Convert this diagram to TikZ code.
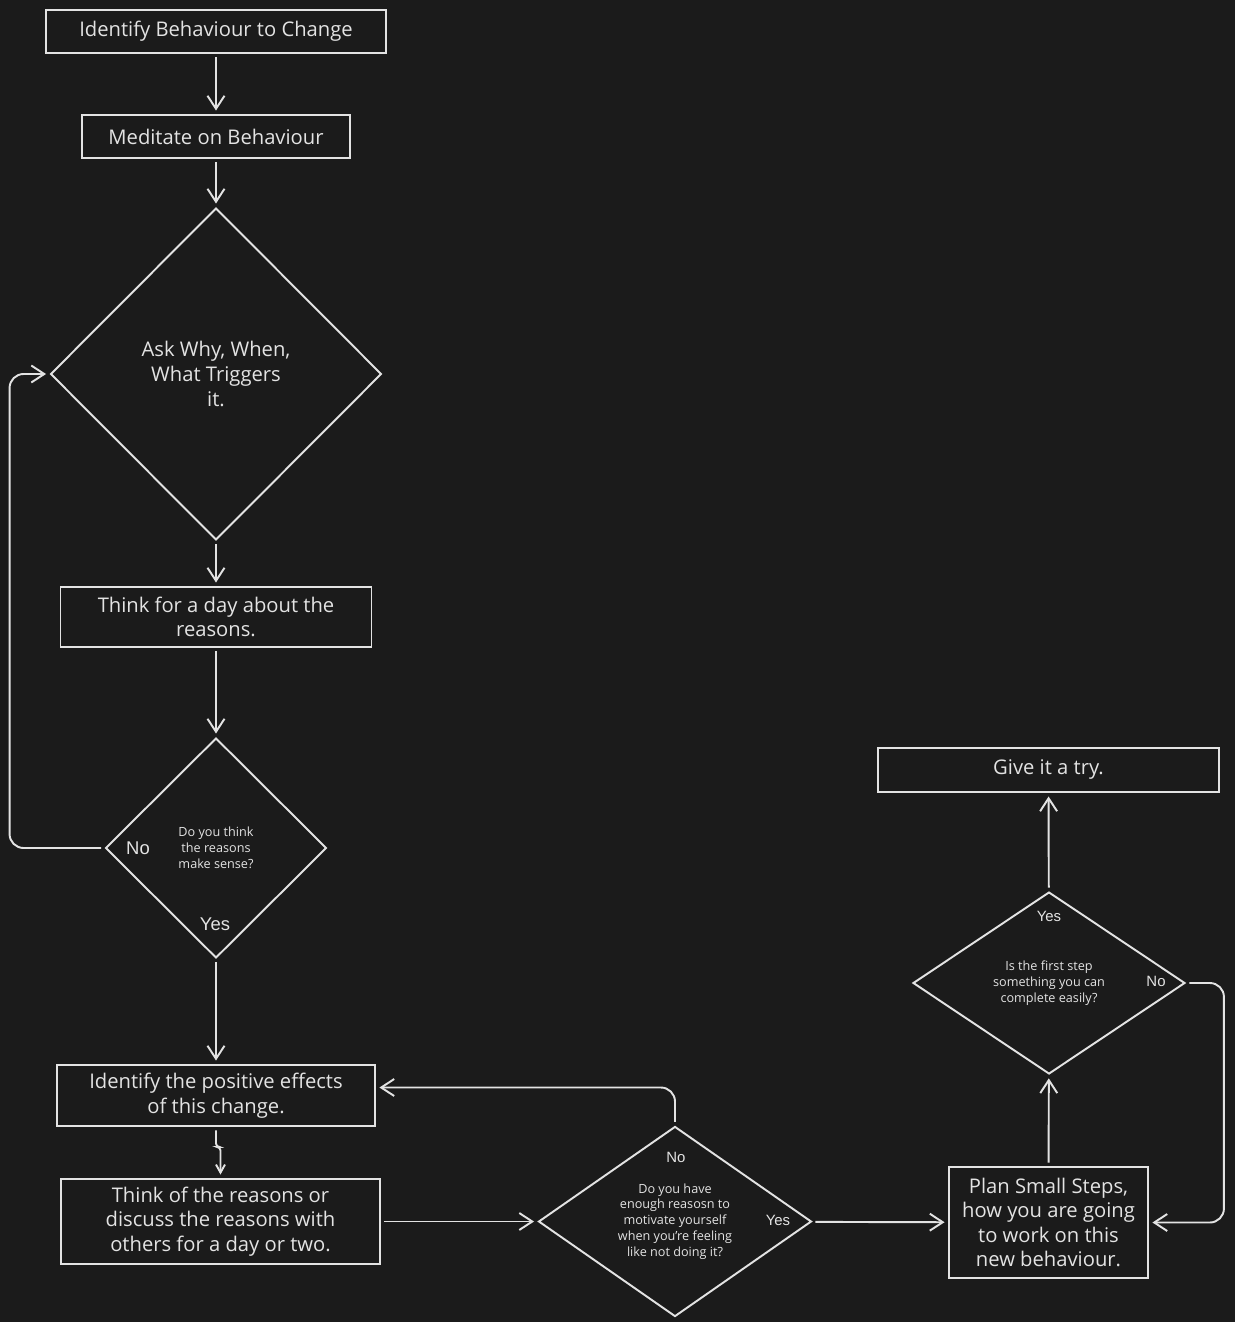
\documentclass[tikz,border=0pt]{standalone}
\usepackage{fontspec}
\setmainfont{Open Sans}
\newfontfamily\ansfont{Liberation Sans}
\usetikzlibrary{shapes.geometric,arrows.meta}
\definecolor{bgDark}{HTML}{1B1B1B}
\definecolor{ink}{HTML}{E3E3E3}

\begin{document}
\begin{tikzpicture}[
    x=0.02cm, y=-0.02cm,
    stepBox/.style={draw=ink, line width=1.1pt, text=ink, align=center, inner sep=0pt, font=\fontsize{11.5}{14}\selectfont},
    bigBox/.style={stepBox, font=\fontsize{11.5}{14}\selectfont},
    decide/.style={diamond, draw=ink, line width=1.1pt, text=ink, align=center, inner sep=0pt, font=\fontsize{7.2}{9}\selectfont},
    link/.style={-{Straight Barb[length=2.6mm, width=3.4mm]}, draw=ink, line width=1.1pt, shorten >=2pt, shorten <=2pt},
    shortLink/.style={link, -{Straight Barb[length=1.6mm, width=1.8mm]}},
    ans/.style={text=ink, font=\ansfont\fontsize{8.5}{10}\selectfont},
]
\fill[bgDark] (0,0) rectangle (1235,1322);
\useasboundingbox (0,0) rectangle (1235,1322);

% left column
\node[stepBox, minimum width=6.8cm, minimum height=0.86cm] (identify) at (216,31.5) {Identify Behaviour to Change};
\node[stepBox, minimum width=5.36cm, minimum height=0.86cm] (meditate) at (216,136.5) {Meditate on Behaviour};
\node[decide, minimum width=6.62cm, minimum height=6.64cm, font=\fontsize{11.5}{14}\selectfont] (ask) at (216,374) {Ask Why, When,\\What Triggers\\it.};
\node[stepBox, minimum width=6.22cm, minimum height=1.2cm] (think) at (216,617) {Think for a day about the\\reasons.};
\node[decide, minimum width=4.42cm, minimum height=4.4cm] (sense) at (216,848) {Do you think\\the reasons\\make sense?};
\node[ans, font=\ansfont\fontsize{10.5}{12}\selectfont] (senseNo) at (138,848) {No};
\node[ans, font=\ansfont\fontsize{10.5}{12}\selectfont] (senseYes) at (215,924) {Yes};
\node[stepBox, minimum width=6.36cm, minimum height=1.22cm] (effects) at (216,1095.5) {Identify the positive effects\\of this change.};
\node[stepBox, minimum width=6.38cm, minimum height=1.7cm] (discuss) at (220.5,1221.5) {Think of the reasons or\\discuss the reasons with\\others for a day or two.};

% bottom and right
\node[decide, minimum width=5.46cm, minimum height=3.66cm] (enough) at (675,1221.5) {Do you have\\enough reasosn to\\motivate yourself\\when you're feeling\\like not doing it?};
\node[ans] (enoughNo) at (676,1157) {No};
\node[ans] (enoughYes) at (778,1220) {Yes};
\node[bigBox, minimum width=3.98cm, minimum height=2.22cm] (plan) at (1048.5,1222.5) {Plan Small Steps,\\how you are going\\to work on this\\new behaviour.};
\node[decide, minimum width=5.44cm, minimum height=3.64cm] (first) at (1049,983) {Is the first step\\something you can\\complete easily?};
\node[ans] (firstYes) at (1049,916) {Yes};
\node[ans] (firstNo) at (1156,981) {No};
\node[bigBox, minimum width=6.82cm, minimum height=0.88cm] (try) at (1048.5,770) {Give it a try.};

% connectors
\draw[link] (identify) -- (meditate);
\draw[link] (meditate) -- (ask);
\draw[link] (ask) -- (think);
\draw[link] (think) -- (sense);
\draw[link, rounded corners=8pt] (sense.west) -- ++(-95,0) |- (ask.west);
\draw[link] (sense) -- (effects);
\draw[shortLink, rounded corners=2pt] (effects.south) -- ++(0,20) -| (discuss.north);
\draw[link] (discuss) -- (enough);
\draw[link, rounded corners=8pt] (enough.north) |- ([yshift=0.16cm]effects.east);
\draw[link] (enough) -- (plan);
\draw[link] (plan) -- (first);
\draw[link] (first) -- (try);
\draw[link, rounded corners=8pt] (first.east) -- ++(38,0) |- (plan.east);
\end{tikzpicture}
\end{document}
